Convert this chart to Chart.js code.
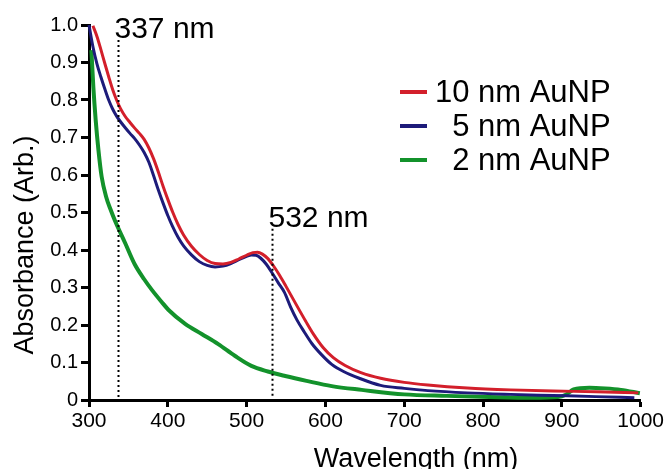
<!DOCTYPE html>
<html>
<head>
<meta charset="utf-8">
<title>AuNP absorbance spectra</title>
<script src="https://cdn.jsdelivr.net/npm/chart.js@4.4.1/dist/chart.umd.min.js"></script>
<style>
  html, body { margin: 0; padding: 0; background: #ffffff; }
  #wrap { position: relative; width: 666px; height: 469px; }
</style>
</head>
<body>
<div id="wrap"><canvas id="spectra" width="666" height="469"></canvas></div>
<script>
// UV-Vis spectra of gold nanoparticles (wavelength in nm, absorbance in arb. units)
const seriesLabels = ['10 nm AuNP', '5 nm AuNP', '2 nm AuNP'];
const seriesColors = ['#d31f2b', '#1d1b7a', '#13922b'];

const wl10 = [305, 310, 315, 320, 325, 330, 335, 340, 346, 352, 358, 364, 370, 376, 382, 388, 394, 400, 406, 413, 420, 430, 440, 450, 460, 470, 480, 490, 500, 508, 514, 520, 527, 534, 542, 550, 558, 566, 575, 585, 597, 610, 625, 645, 670, 700, 730, 780, 835, 889, 943, 997];
const abs10 = [0.998, 0.970, 0.935, 0.898, 0.862, 0.828, 0.800, 0.777, 0.756, 0.740, 0.725, 0.711, 0.695, 0.672, 0.643, 0.608, 0.570, 0.535, 0.502, 0.468, 0.440, 0.410, 0.388, 0.372, 0.364, 0.363, 0.367, 0.376, 0.386, 0.393, 0.394, 0.389, 0.377, 0.358, 0.332, 0.303, 0.273, 0.243, 0.210, 0.175, 0.140, 0.113, 0.092, 0.073, 0.058, 0.047, 0.040, 0.032, 0.027, 0.024, 0.022, 0.019];

const wl5 = [300, 305, 310, 315, 320, 325, 330, 335, 340, 346, 352, 358, 364, 370, 376, 382, 388, 394, 400, 406, 413, 420, 430, 440, 450, 460, 470, 480, 490, 500, 506, 512, 518, 525, 532, 540, 548, 556, 564, 573, 583, 595, 608, 623, 643, 670, 700, 730, 780, 835, 889, 943, 992];
const abs5 = [1.000, 0.942, 0.897, 0.862, 0.830, 0.800, 0.776, 0.757, 0.742, 0.726, 0.711, 0.697, 0.680, 0.660, 0.634, 0.598, 0.560, 0.525, 0.492, 0.463, 0.434, 0.411, 0.387, 0.369, 0.359, 0.355, 0.357, 0.364, 0.374, 0.383, 0.387, 0.386, 0.378, 0.362, 0.340, 0.313, 0.287, 0.247, 0.213, 0.182, 0.150, 0.121, 0.095, 0.076, 0.058, 0.039, 0.031, 0.025, 0.019, 0.015, 0.012, 0.009, 0.006];

const wl2 = [303, 305.5, 308.5, 312, 316, 322, 327, 333, 346, 358, 370, 380, 392, 401, 422, 443, 464, 485, 506, 527, 549, 576, 608, 646, 700, 754, 808, 862, 895, 905, 915, 935, 955, 975, 999];
const abs2 = [0.933, 0.835, 0.746, 0.666, 0.596, 0.540, 0.510, 0.478, 0.418, 0.362, 0.322, 0.293, 0.262, 0.240, 0.203, 0.176, 0.149, 0.118, 0.091, 0.076, 0.064, 0.051, 0.037, 0.027, 0.015, 0.011, 0.008, 0.006, 0.008, 0.014, 0.028, 0.033, 0.031, 0.027, 0.018];

// Marked wavelengths: position, height of the dotted guide, caption
const markerWl = [337, 532];
const markerTop = [0.96, 0.457];
const markerText = ['337 nm', '532 nm'];

const xTickMin = 300, xTickMax = 1000, xTickStep = 100;
const yTickMin = 0, yTickMax = 1.0, yTickStep = 0.1;

const FONT = '"Liberation Sans", Arial, Helvetica, sans-serif';

function pairs(xs, ys) { return xs.map((x, i) => ({ x: x, y: ys[i] })); }

// Guides, captions, axis titles and the legend
const decorations = {
  id: 'decorations',
  afterDatasetsDraw(chart) {
    const { ctx, chartArea, scales } = chart;
    const xs = scales.x, ys = scales.y;
    ctx.save();

    // dotted guides + captions
    ctx.strokeStyle = '#000';
    ctx.lineWidth = 2;
    ctx.setLineDash([2, 3]);
    ctx.font = '30px ' + FONT;
    ctx.fillStyle = '#000';
    ctx.textAlign = 'left';
    ctx.textBaseline = 'alphabetic';
    markerWl.forEach((w, i) => {
      const px = Math.round(xs.getPixelForValue(w)) + 0.5;
      const top = ys.getPixelForValue(markerTop[i]);
      ctx.beginPath();
      ctx.moveTo(px, top);
      ctx.lineTo(px, chartArea.bottom - 2);
      ctx.stroke();
      ctx.fillText(markerText[i], px - 4, top - 2);
    });
    ctx.setLineDash([]);

    // legend
    const rowY0 = chartArea.top + 67;
    const rowGap = 34;
    const textRight = chartArea.right - 30;
    const lineX0 = chartArea.left + 311;
    ctx.font = '31px ' + FONT;
    ctx.textAlign = 'right';
    ctx.textBaseline = 'middle';
    chart.data.datasets.forEach((ds, i) => {
      const y = rowY0 + i * rowGap;
      ctx.strokeStyle = ds.borderColor;
      ctx.lineWidth = 4;
      ctx.beginPath();
      ctx.moveTo(lineX0, y);
      ctx.lineTo(lineX0 + 27, y);
      ctx.stroke();
      ctx.fillStyle = '#000';
      ctx.fillText(ds.label, textRight, y + 1);
    });

    // axis titles
    ctx.font = '27px ' + FONT;
    ctx.fillStyle = '#000';
    ctx.textAlign = 'center';
    ctx.textBaseline = 'alphabetic';
    ctx.fillText('Wavelength (nm)', 416, 467);
    ctx.translate(33, 245);
    ctx.rotate(-Math.PI / 2);
    ctx.fillText('Absorbance (Arb.)', 0, 0);

    ctx.restore();
  }
};

Chart.defaults.color = '#000';
Chart.defaults.font.family = FONT;

new Chart(document.getElementById('spectra'), {
  type: 'line',
  data: {
    datasets: [
      { label: seriesLabels[0], data: pairs(wl10, abs10), borderColor: seriesColors[0], borderWidth: 3 },
      { label: seriesLabels[1], data: pairs(wl5, abs5), borderColor: seriesColors[1], borderWidth: 3 },
      { label: seriesLabels[2], data: pairs(wl2, abs2), borderColor: seriesColors[2], borderWidth: 4 }
    ]
  },
  options: {
    responsive: false,
    animation: false,
    devicePixelRatio: 1,
    layout: { padding: { left: 0, top: 25, right: 25, bottom: 0 } },
    elements: {
      point: { radius: 0 },
      line: { cubicInterpolationMode: 'monotone', fill: false }
    },
    datasets: { line: { clip: 6 } },
    plugins: { legend: { display: false }, tooltip: { enabled: false } },
    scales: {
      x: {
        type: 'linear',
        min: xTickMin, max: xTickMax,
        afterFit(scale) { scale.height = 69; },
        ticks: {
          stepSize: xTickStep, padding: 2, font: { size: 21 }, color: '#000', maxRotation: 0,
          callback: (v) => String(Math.round(v))
        },
        grid: { drawOnChartArea: false, drawTicks: true, tickLength: 7, tickWidth: 3, tickColor: '#000' },
        border: { display: true, width: 3, color: '#000' }
      },
      y: {
        type: 'linear',
        min: yTickMin, max: yTickMax,
        afterFit(scale) { scale.width = 89; },
        ticks: {
          stepSize: yTickStep, padding: 3, font: { size: 20 }, color: '#000',
          callback: (v) => (Math.abs(v) < 1e-9 ? '0' : v.toFixed(1))
        },
        grid: { drawOnChartArea: false, drawTicks: true, tickLength: 8, tickWidth: 3, tickColor: '#000' },
        border: { display: true, width: 3, color: '#000' }
      }
    }
  },
  plugins: [decorations]
});
</script>
</body>
</html>
